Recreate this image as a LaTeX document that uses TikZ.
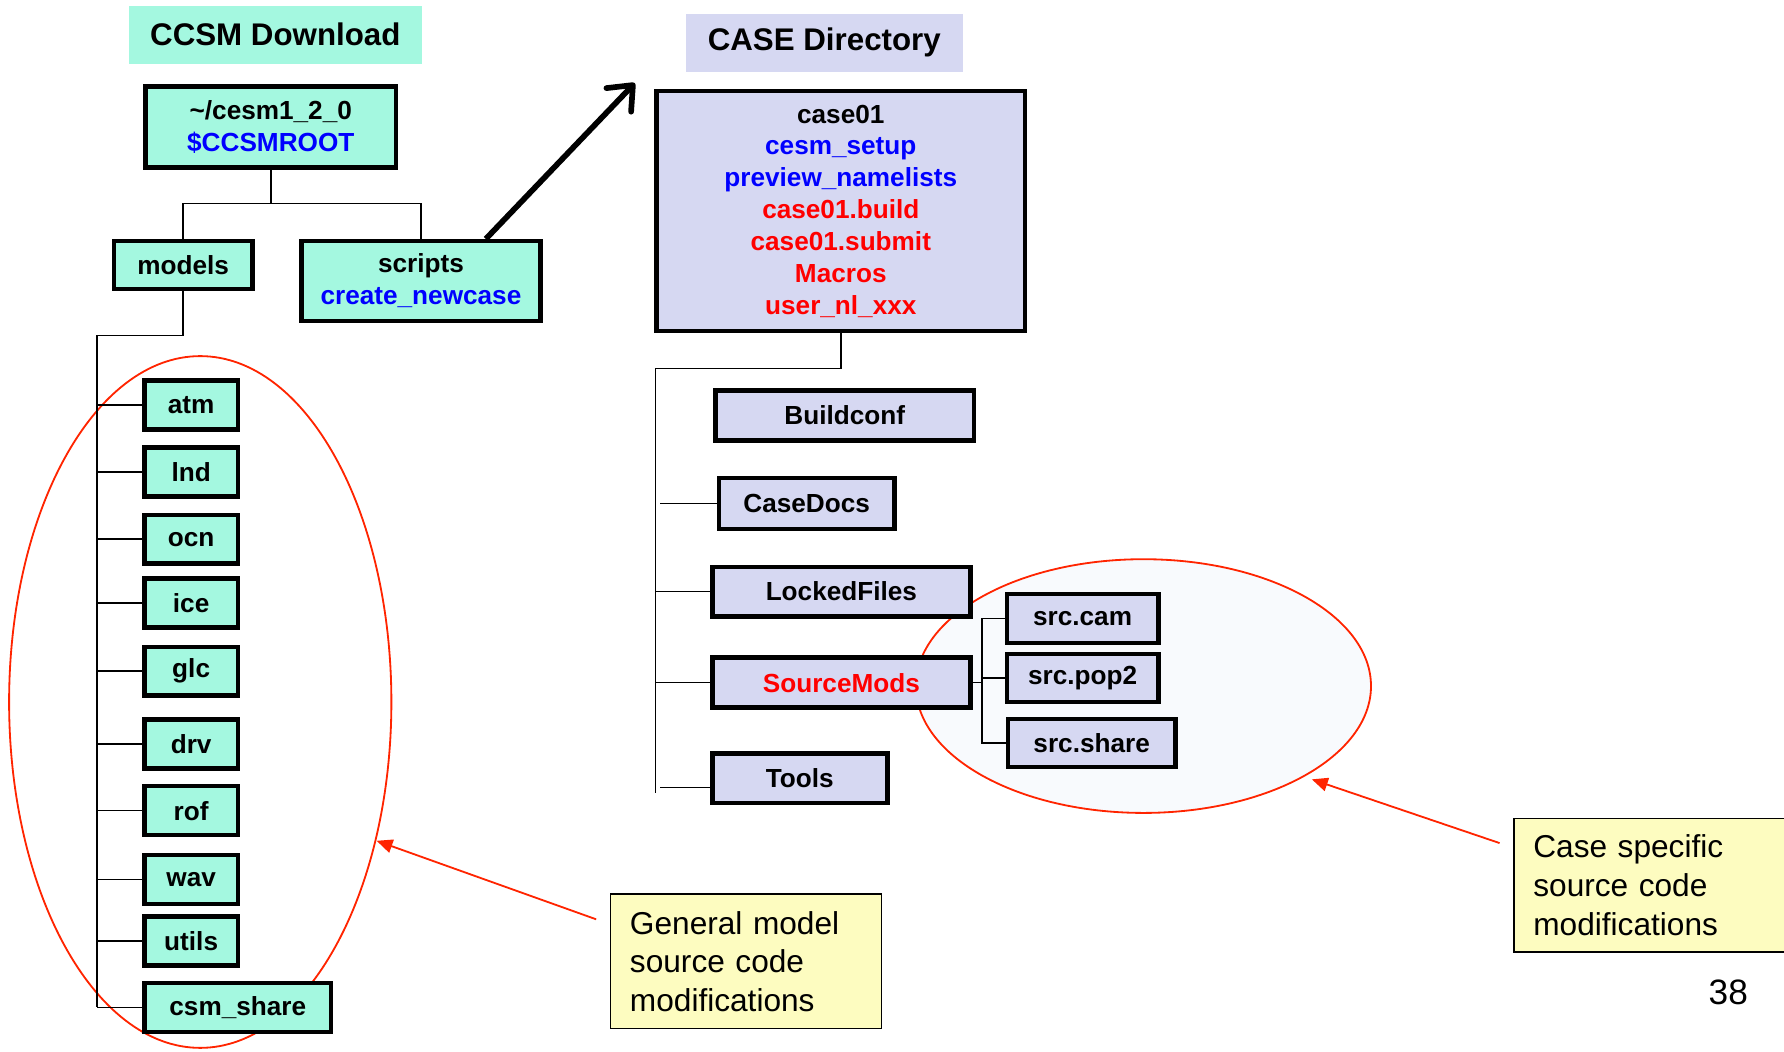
\documentclass[tikz,border=0pt]{standalone}
\usepackage{fontspec}
\setmainfont{Liberation Sans}
\usetikzlibrary{arrows.meta}
\definecolor{teal1}{RGB}{164,248,224}
\definecolor{lav}{RGB}{214,216,242}
\definecolor{ylw}{RGB}{253,252,192}
\definecolor{redl}{RGB}{255,36,0}
\definecolor{ellfill}{RGB}{248,250,253}
\definecolor{tblue}{RGB}{0,0,255}
\definecolor{tred}{RGB}{255,0,0}
\begin{document}
\begin{tikzpicture}[x=0.5pt,y=-0.5pt,
  tbox/.style={draw=black, line width=2pt, fill=teal1, font=\fontsize{11.5}{14}\selectfont\bfseries, inner sep=0pt, align=center},
  lbox/.style={tbox, fill=lav},
  ttl/.style={fill=#1, font=\fontsize{13.75}{16}\selectfont\bfseries, inner sep=0pt},
  ann/.style={draw=black, line width=0.7pt, fill=ylw, font=\fontsize{13.9}{17}\selectfont, align=left, inner xsep=8.5pt, inner ysep=0pt, anchor=west},
  tree/.style={line width=0.7pt},
  redell/.style={draw=redl, line width=0.8pt},
  redarr/.style={draw=redl, line width=0.8pt, -{Triangle[length=7pt,width=6pt]}},
]
\useasboundingbox (0,0) rectangle (1568,924);

% highlight ellipses (behind everything)
\draw[redell] (176,617) ellipse [x radius=84pt, y radius=152pt];
\draw[redell, fill=ellfill] (1005,603) ellipse [x radius=100pt, y radius=55.75pt];

% titles
\node[ttl=teal1, minimum width=129pt, minimum height=25.5pt] (t1) at (242,30.5) {CCSM Download};
\node[ttl=lav, minimum width=121.5pt, minimum height=25.5pt] (t2) at (724.5,37.5) {CASE Directory};

% left tree
\node[tbox, minimum width=110pt, minimum height=35.5pt] (cesm) at (238,111.5) {\textasciitilde/cesm1\_2\_0\\\textcolor{tblue}{\$CCSMROOT}};
\node[tbox, minimum width=61pt, minimum height=21pt] (models) at (161,233) {models};
\node[tbox, minimum width=105pt, minimum height=35pt] (scripts) at (370,247) {scripts\\\textcolor{tblue}{create\_newcase}};

\node[tbox, minimum width=41pt, minimum height=21.5pt] (atm) at (168,356) {atm};
\node[tbox, minimum width=41pt, minimum height=21.5pt] (lnd) at (168,415) {lnd};
\node[tbox, minimum width=41pt, minimum height=21.5pt] (ocn) at (168,474) {ocn};
\node[tbox, minimum width=41pt, minimum height=21.5pt] (ice) at (168,530) {ice};
\node[tbox, minimum width=41pt, minimum height=21.5pt] (glc) at (168,590) {glc};
\node[tbox, minimum width=41pt, minimum height=21.5pt] (drv) at (168,654) {drv};
\node[tbox, minimum width=41pt, minimum height=21.5pt] (rof) at (168,712.5) {rof};
\node[tbox, minimum width=41pt, minimum height=21.5pt] (wav) at (168,773) {wav};
\node[tbox, minimum width=41pt, minimum height=21.5pt] (utils) at (168,827) {utils};
\node[tbox, minimum width=82pt, minimum height=21.5pt] (csmshare) at (209,885.5) {csm\_share};

\coordinate (fork) at (238,179);
\coordinate (lspine) at (85,295);
\draw[tree] (cesm.south) -- (fork);
\draw[tree] (models.north) |- (fork) -| (scripts.north);
\draw[tree] (models.south) |- (lspine) -- (lspine |- csmshare.west);
\foreach \n in {atm,lnd,ocn,ice,glc,drv,rof,wav,utils,csmshare}
  \draw[tree] (\n.west) -- (\n.west -| lspine);

% right tree
\node[lbox, minimum width=162pt, minimum height=105.5pt] (case) at (739,185.5) {case01\\\textcolor{tblue}{cesm\_setup}\\\textcolor{tblue}{preview\_namelists}\\\textcolor{tred}{case01.build}\\\textcolor{tred}{case01.submit}\\\textcolor{tred}{Macros}\\\textcolor{tred}{user\_nl\_xxx}};
\node[lbox, minimum width=113.5pt, minimum height=22pt] (build) at (742.5,365) {Buildconf};
\node[lbox, minimum width=77pt, minimum height=22.5pt] (docs) at (709,442.5) {CaseDocs};
\node[lbox, minimum width=113.5pt, minimum height=21.75pt] (locked) at (739.5,520) {LockedFiles};
\node[lbox, minimum width=113.5pt, minimum height=22pt] (smods) at (739.5,600) {\textcolor{tred}{SourceMods}};
\node[lbox, minimum width=77pt, minimum height=21.75pt] (tools) at (703,684) {Tools};
\node[lbox, minimum width=66.5pt, minimum height=21.5pt] (scam) at (951.5,543.5) {src.cam};
\node[lbox, minimum width=66.5pt, minimum height=21pt] (spop) at (951.5,596) {src.pop2};
\node[lbox, minimum width=73.5pt, minimum height=21pt] (sshare) at (959.5,653) {src.share};

\coordinate (rspine) at (576,324);
\coordinate (rspineEnd) at (576,697);
\coordinate (rgap) at (580,0);
\coordinate (subx) at (863,0);
\draw[tree] (case.south) |- (rspine) -- (rspineEnd);
\draw[tree] (docs.west) -- (docs.west -| rgap);
\draw[tree] (locked.west) -- (locked.west -| rspine);
\draw[tree] (smods.west) -- (smods.west -| rspine);
\draw[tree] ([yshift=-4pt]tools.west) -- ([yshift=-4pt]tools.west -| rgap);
\draw[tree] (smods.east) -- (smods.east -| subx);
\draw[tree] (scam.west) -| (subx |- sshare.west) -- (sshare.west);
\draw[tree] (spop.west) -- (spop.west -| subx);

% thick arrow scripts -> case directory
\coordinate (caseArrow) at (558,73);
\draw[line width=2.5pt, -{Straight Barb[length=9pt,width=15pt,round]}] ([xshift=28.5pt]scripts.north) -- (caseArrow);

% annotations
\node[ann, text width=102pt, minimum height=59pt] (ann1) at (536,845) {General model\\source code\\modifications};
\node[ann, text width=104pt, minimum height=58.5pt] (ann2) at (1330,778) {Case specific\\source code\\modifications};
\coordinate (a1s) at (524,808);
\coordinate (a1e) at (331,739);
\coordinate (a2s) at (1318,741);
\coordinate (a2e) at (1153,685);
\draw[redarr] (a1s) -- (a1e);
\draw[redarr] (a2s) -- (a2e);

\node[font=\fontsize{15.5}{18}\selectfont, inner sep=0pt] (pg) at (1519,872) {38};
\end{tikzpicture}
\end{document}
